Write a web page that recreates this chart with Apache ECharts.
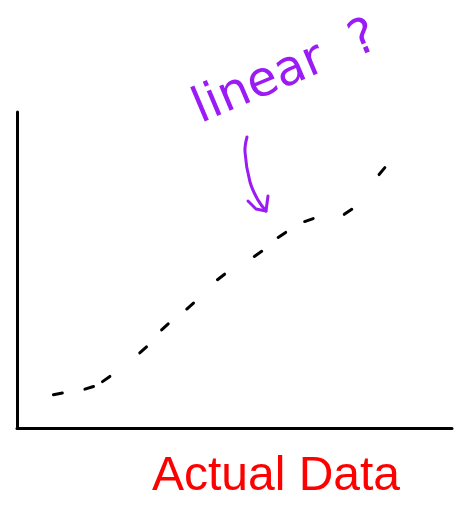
<!DOCTYPE html>
<html>
<head>
<meta charset="utf-8">
<script src="https://cdn.jsdelivr.net/npm/echarts@6/dist/echarts.min.js"></script>
<style>
  html, body { margin: 0; padding: 0; background: #fff; }
  #chart { width: 456px; height: 511px; }
</style>
</head>
<body>
<div id="chart"></div>
<script>
// sketched "actual data" points (axes run 0..100)
const actualX = [9.4, 16.6, 20.5, 29.0, 34.0, 39.8, 46.9, 55.4, 60.9, 67.1, 76.1, 83.9]
const actualY = [10.8, 12.7, 15.5, 24.7, 32.0, 38.6, 47.8, 55.1, 61.1, 65.8, 68.4, 81.3]

const noteText = 'linear  ?'
const xAxisTitle = 'Actual Data'

const points = actualX.map((x, i) => [x, actualY[i]])

const chart = echarts.init(document.getElementById('chart'))

// each point becomes a short dash lying along the curve
const renderDash = (params, api) => {
  const i = params.dataIndex
  const n = points.length
  const p = api.coord([api.value(0), api.value(1)])
  const a = api.coord(points[Math.max(i - 1, 0)])
  const b = api.coord(points[Math.min(i + 1, n - 1)])
  const dx = b[0] - a[0]
  const dy = b[1] - a[1]
  const len = Math.hypot(dx, dy) || 1
  const half = 4.5
  const ux = dx / len * half
  const uy = dy / len * half
  return {
    type: 'line',
    shape: { x1: p[0] - ux, y1: p[1] - uy, x2: p[0] + ux, y2: p[1] + uy },
    style: { stroke: '#000', lineWidth: 3, lineCap: 'round' },
  }
}

const axisCommon = {
  type: 'value',
  min: 0,
  max: 100,
  axisLine: { show: true, lineStyle: { color: '#000', width: 3 } },
  axisTick: { show: false },
  axisLabel: { show: false },
  splitLine: { show: false },
}

chart.setOption({
  animation: false,
  backgroundColor: '#fff',
  grid: { left: 17, right: 4, top: 112, bottom: 83 },
  xAxis: { ...axisCommon },
  yAxis: { ...axisCommon },
  series: [{
    type: 'custom',
    renderItem: renderDash,
    data: points,
  }],
  graphic: [
    {
      type: 'text',
      x: 205,
      y: 134,
      rotation: 0.4,
      style: {
        text: noteText,
        font: '49px "DejaVu Sans", sans-serif',
        fill: '#9b1bf5',
        textAlign: 'left',
        textVerticalAlign: 'bottom',
      },
    },
    {
      type: 'polyline',
      shape: { points: [[247, 137], [245, 152], [250, 182], [258, 200], [266, 211]], smooth: 0.4 },
      style: { stroke: '#9b1bf5', lineWidth: 3, fill: null, lineCap: 'round' },
    },
    {
      type: 'polyline',
      shape: { points: [[248, 201], [256, 209], [266, 211], [268, 196]] },
      style: { stroke: '#9b1bf5', lineWidth: 3, fill: null, lineCap: 'round', lineJoin: 'round' },
    },
    {
      type: 'text',
      x: 276,
      y: 477,
      style: {
        text: xAxisTitle,
        font: '48px "Liberation Sans", Arial, sans-serif',
        fill: '#ff0000',
        textAlign: 'center',
        textVerticalAlign: 'middle',
      },
    },
  ],
})
</script>
</body>
</html>
